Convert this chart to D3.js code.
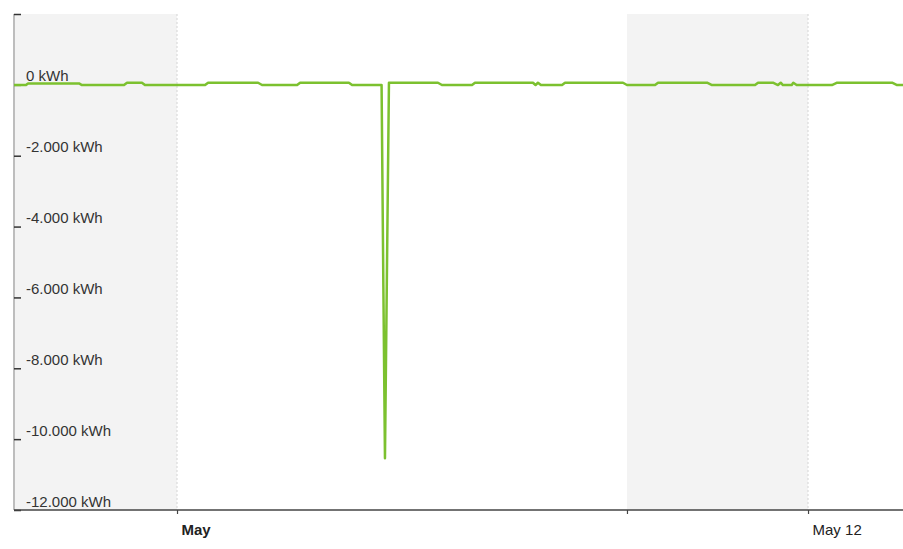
<!DOCTYPE html>
<html>
<head>
<meta charset="utf-8">
<script src="https://cdn.jsdelivr.net/npm/d3@7"></script>
<style>
    body { margin: 0; background: #fff; }
    text { font-family: "Liberation Sans", Arial, sans-serif; }
</style>
</head>
<body>
<div id="chart"></div>
<script>
// energy readings, corners of the line
const times = [
    '2021-04-28T03:48', '2021-04-28T08:49', '2021-04-28T09:40', '2021-04-29T07:00',
    '2021-04-29T08:15', '2021-04-30T01:50', '2021-04-30T03:05', '2021-04-30T09:20',
    '2021-04-30T10:35', '2021-05-01T11:45', '2021-05-01T13:00', '2021-05-02T09:55',
    '2021-05-02T11:35', '2021-05-03T02:15', '2021-05-03T03:30', '2021-05-03T23:55',
    '2021-05-04T01:15', '2021-05-04T13:35', '2021-05-04T14:20', '2021-05-04T15:00',
    '2021-05-04T16:40', '2021-05-05T13:10', '2021-05-05T14:50', '2021-05-06T03:25',
    '2021-05-06T04:40', '2021-05-07T04:55', '2021-05-07T06:00', '2021-05-07T07:00',
    '2021-05-07T08:15', '2021-05-07T17:05', '2021-05-07T18:20', '2021-05-08T18:35',
    '2021-05-08T20:15', '2021-05-09T08:00', '2021-05-09T09:15', '2021-05-10T05:45',
    '2021-05-10T07:50', '2021-05-11T01:50', '2021-05-11T03:05', '2021-05-11T09:20',
    '2021-05-11T11:25', '2021-05-11T12:35', '2021-05-11T13:30', '2021-05-11T17:10',
    '2021-05-11T17:50', '2021-05-11T19:15', '2021-05-12T10:00', '2021-05-12T12:10',
    '2021-05-13T11:10', '2021-05-13T13:15', '2021-05-13T15:44'
];
const values = [
    -5, -5, 40, 40,
    -5, -5, 60, 60,
    -5, -5, 60, 60,
    -5, -5, 60, 60,
    -5, -5, -5700, -10540,
    60, 60, -5, -5,
    60, 60, -5, 60,
    -5, -5, 60, 60,
    -5, -5, 60, 60,
    -5, -5, 60, 60,
    -5, 60, -5, -5,
    60, -5, -5, 60,
    60, -5, -5
];

const xDomain = ['2021-04-28T03:48', '2021-05-13T15:44'];
const bandStarts = ['2021-04-28T03:48', '2021-05-08T20:15'];
const bandEnds = ['2021-05-01T00:00', '2021-05-12T00:00'];
const xTicks = ['2021-05-01T00:00', '2021-05-08T20:15', '2021-05-12T00:00'];
const xTickLabels = ['May', '', 'May 12'];
const gridDates = ['2021-05-01T00:00', '2021-05-12T00:00'];
const yTicks = [2000, 0, -2000, -4000, -6000, -8000, -10000, -12000];
const yDomain = [-12000, 2000];

const parse = d3.timeParse('%Y-%m-%dT%H:%M');
const data = times.map((t, i) => ({date: parse(t), value: values[i]}));

const margin = ({top: 14, right: 0, bottom: 39, left: 14});
const width = 903 - margin.left - margin.right;
const height = 549 - margin.top - margin.bottom;

const svg = d3.select('#chart')
    .append('svg')
    .attr('width', width + margin.left + margin.right)
    .attr('height', height + margin.top + margin.bottom)
    .append('g')
    .attr('transform', 'translate(' + margin.left + ',' + margin.top + ')');

const xScale = d3.scaleTime()
    .domain(xDomain.map(parse))
    .range([0, width]);

const yScale = d3.scaleLinear()
    .domain(yDomain)
    .range([height, 0]);

// shaded periods
svg.selectAll('.band')
    .data(bandStarts.map((s, i) => [parse(s), parse(bandEnds[i])]))
    .join('rect')
    .attr('class', 'band')
    .attr('x', d => xScale(d[0]))
    .attr('width', d => xScale(d[1]) - xScale(d[0]))
    .attr('y', 0)
    .attr('height', height)
    .attr('fill', '#f3f3f3');

// dashed grid at labelled days
svg.selectAll('.grid')
    .data(gridDates.map(parse))
    .join('line')
    .attr('class', 'grid')
    .attr('x1', d => xScale(d))
    .attr('x2', d => xScale(d))
    .attr('y1', 0)
    .attr('y2', height)
    .attr('stroke', '#d4d4d4')
    .attr('stroke-dasharray', '2,2');

const locale = d3.formatLocale({decimal: ',', thousands: '.', grouping: [3], currency: ['', ''], minus: '-'});
const fmt = locale.format(',.0f');

// y axis
svg.append('line')
    .attr('x1', 0).attr('x2', 0)
    .attr('y1', 0).attr('y2', height)
    .attr('stroke', '#bdbdbd')
    .attr('stroke-width', 2);

const yAxis = d3.axisRight()
    .scale(yScale)
    .tickValues(yTicks)
    .tickSize(7)
    .tickFormat(d => d === 2000 ? '' : fmt(d) + ' kWh');

const gy = svg.append('g')
    .attr('class', 'axis y-axis')
    .call(yAxis);
gy.select('.domain').remove();
gy.selectAll('line').attr('stroke', '#333').attr('stroke-width', 1.5);
gy.selectAll('text')
    .attr('x', 12)
    .attr('y', -4)
    .attr('dy', 0)
    .attr('fill', '#333')
    .style('font-size', '15px');

// line
svg.append('clipPath')
    .attr('id', 'clip')
    .append('rect')
    .attr('width', width)
    .attr('height', height);

const line = d3.line()
    .x(d => xScale(d.date))
    .y(d => yScale(d.value));

svg.append('path')
    .datum(data)
    .attr('clip-path', 'url(#clip)')
    .attr('fill', 'none')
    .attr('stroke', '#7cc12f')
    .attr('stroke-width', 2.5)
    .attr('stroke-linejoin', 'round')
    .attr('d', line);

// x axis
const xAxis = d3.axisBottom()
    .scale(xScale)
    .tickValues(xTicks.map(parse))
    .tickSize(4)
    .tickFormat((d, i) => xTickLabels[i]);

const gx = svg.append('g')
    .attr('class', 'axis x-axis')
    .attr('transform', 'translate(0,' + height + ')')
    .call(xAxis);
gx.select('.domain')
    .attr('d', 'M0,0H' + width)
    .attr('stroke', '#444')
    .attr('stroke-width', 1.5);
gx.selectAll('line').attr('stroke', '#444').attr('stroke-width', 1.2);
gx.selectAll('text')
    .attr('text-anchor', 'start')
    .attr('x', 4)
    .attr('y', 25)
    .attr('dy', 0)
    .attr('fill', '#222')
    .style('font-size', '15px')
    .style('font-weight', (d, i) => i === 0 ? 'bold' : 'normal');
</script>
</body>
</html>
